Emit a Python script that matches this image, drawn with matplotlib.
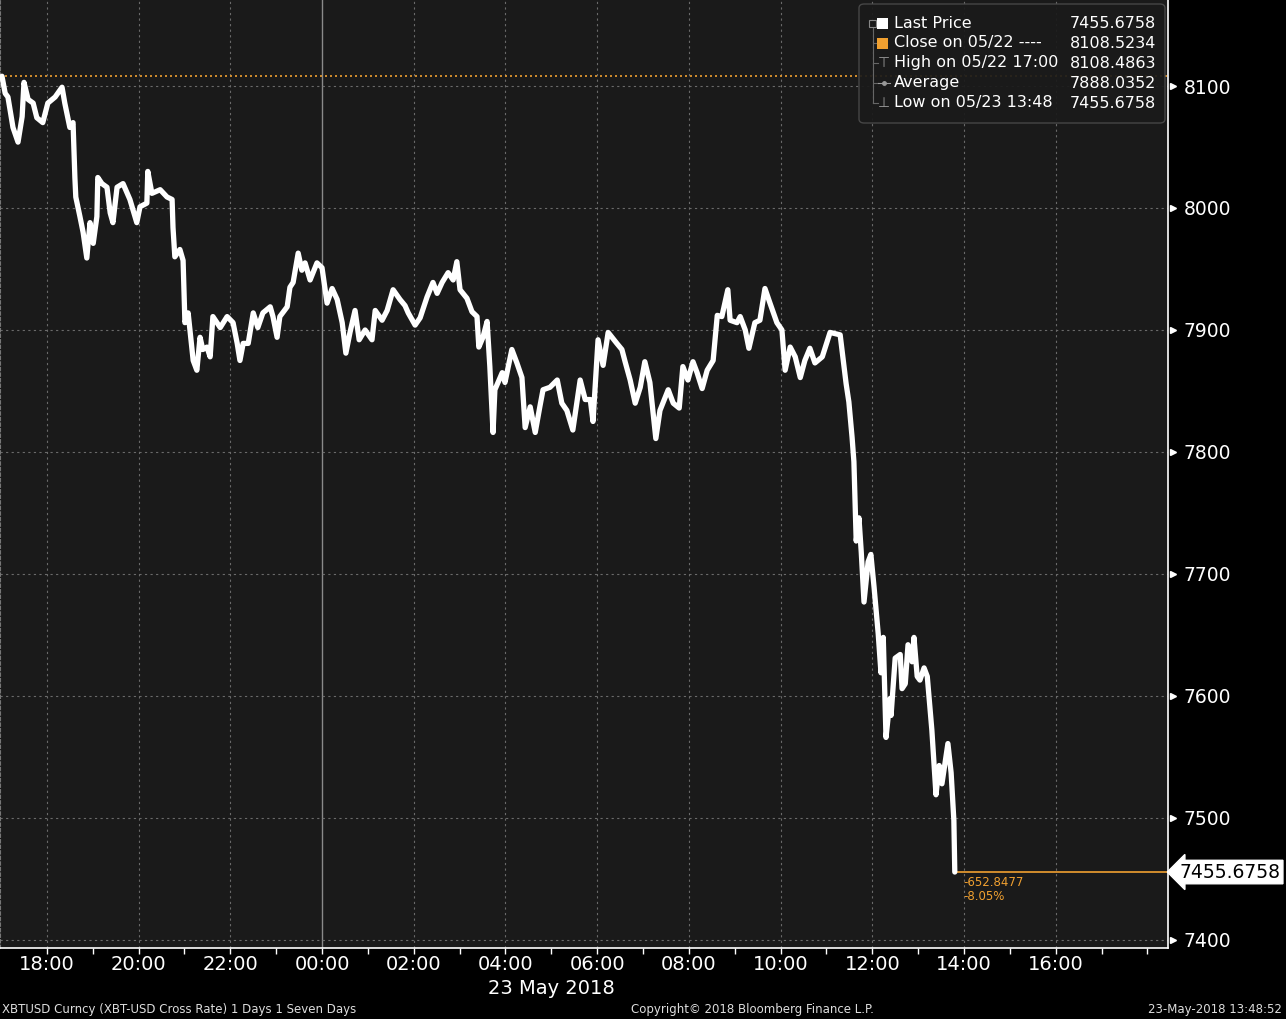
import matplotlib
matplotlib.use("Agg")
import matplotlib.pyplot as plt
import numpy as np
from matplotlib.patches import FancyBboxPatch, Rectangle

# hours relative to 00:00 on 23 May 2018 (negative = 22 May)
hours = [
    -6.98, -6.91, -6.85, -6.74, -6.63, -6.54, -6.50, -6.41, -6.30, -6.22,
    -6.09, -5.98, -5.82, -5.67, -5.61, -5.50, -5.43, -5.39, -5.37, -5.28,
    -5.21, -5.13, -5.06, -4.99, -4.91, -4.89, -4.80, -4.69, -4.62, -4.56,
    -4.47, -4.34, -4.19, -4.04, -3.97, -3.82, -3.80, -3.71, -3.53, -3.38,
    -3.27, -3.25, -3.21, -3.10, -3.03, -2.99, -2.92, -2.81, -2.73, -2.66,
    -2.60, -2.51, -2.44, -2.38, -2.22, -2.07, -1.94, -1.85, -1.79, -1.72,
    -1.61, -1.50, -1.40, -1.29, -1.13, -1.07, -0.98, -0.92, -0.76, -0.70,
    -0.63, -0.52, -0.44, -0.37, -0.26, -0.11, 0.00, 0.11, 0.22, 0.33,
    0.44, 0.52, 0.61, 0.72, 0.81, 0.94, 1.09, 1.16, 1.31, 1.42,
    1.55, 1.70, 1.81, 1.88, 2.03, 2.14, 2.29, 2.42, 2.51, 2.62,
    2.75, 2.86, 2.94, 3.01, 3.16, 3.27, 3.38, 3.42, 3.51, 3.60,
    3.66, 3.73, 3.77, 3.93, 3.99, 4.14, 4.25, 4.36, 4.43, 4.54,
    4.65, 4.75, 4.82, 4.97, 5.13, 5.23, 5.34, 5.47, 5.63, 5.74,
    5.85, 5.91, 6.02, 6.13, 6.24, 6.43, 6.54, 6.61, 6.72, 6.83,
    6.94, 7.04, 7.15, 7.28, 7.37, 7.55, 7.66, 7.79, 7.87, 7.98,
    8.09, 8.18, 8.29, 8.40, 8.53, 8.62, 8.72, 8.85, 8.90, 9.05,
    9.12, 9.23, 9.31, 9.44, 9.55, 9.66, 9.77, 9.92, 10.03, 10.10,
    10.21, 10.32, 10.43, 10.53, 10.64, 10.75, 10.91, 11.08, 11.30, 11.43,
    11.49, 11.56, 11.60, 11.65, 11.71, 11.76, 11.82, 11.91, 11.97, 12.04,
    12.13, 12.19, 12.24, 12.30, 12.39, 12.41, 12.50, 12.61, 12.65, 12.72,
    12.78, 12.87, 12.91, 12.98, 13.04, 13.13, 13.20, 13.30, 13.39, 13.46,
    13.52, 13.65, 13.72, 13.78, 13.80,
]
prices = [
    8108, 8094, 8091, 8066, 8054, 8075, 8103, 8089, 8086, 8074,
    8070, 8086, 8091, 8099, 8086, 8066, 8070, 8025, 8009, 7993,
    7980, 7959, 7988, 7971, 7993, 8025, 8020, 8017, 7996, 7988,
    8017, 8020, 8007, 7988, 8001, 8004, 8030, 8012, 8015, 8009,
    8007, 7984, 7960, 7966, 7957, 7906, 7914, 7875, 7867, 7894,
    7884, 7886, 7878, 7911, 7902, 7911, 7906, 7889, 7875, 7889,
    7889, 7914, 7902, 7914, 7919, 7911, 7894, 7911, 7919, 7935,
    7939, 7963, 7949, 7955, 7941, 7955, 7951, 7922, 7934, 7925,
    7906, 7881, 7898, 7916, 7892, 7900, 7892, 7916, 7908, 7916,
    7933, 7925, 7920, 7914, 7904, 7910, 7927, 7939, 7930, 7939,
    7947, 7941, 7956, 7933, 7926, 7915, 7911, 7886, 7894, 7907,
    7870, 7816, 7851, 7865, 7857, 7884, 7873, 7861, 7820, 7837,
    7816, 7837, 7851, 7853, 7859, 7840, 7834, 7818, 7859, 7843,
    7843, 7825, 7892, 7871, 7898, 7889, 7884, 7874, 7859, 7840,
    7853, 7874, 7857, 7811, 7834, 7851, 7840, 7836, 7870, 7859,
    7874, 7865, 7852, 7867, 7875, 7912, 7911, 7933, 7908, 7906,
    7911, 7900, 7885, 7906, 7908, 7934, 7922, 7906, 7900, 7867,
    7886, 7878, 7861, 7875, 7885, 7873, 7878, 7898, 7896, 7856,
    7841, 7812, 7792, 7727, 7746, 7718, 7677, 7710, 7716, 7689,
    7651, 7619, 7648, 7566, 7598, 7584, 7631, 7634, 7606, 7610,
    7642, 7628, 7648, 7616, 7613, 7623, 7616, 7572, 7519, 7543,
    7528, 7561, 7537, 7498, 7455.6758,
]

tick_hours = [-6, -4, -2, 0, 2, 4, 6, 8, 10, 12, 14, 16]
tick_labels = ["18:00", "20:00", "22:00", "00:00", "02:00", "04:00",
               "06:00", "08:00", "10:00", "12:00", "14:00", "16:00"]
price_ticks = [7400, 7500, 7600, 7700, 7800, 7900, 8000, 8100]

last_price = 7455.6758
prev_close = 8108.5234
change = -652.8477
change_pct = -8.05

legend_names = ["Last Price", "Close on 05/22 ----", "High on 05/22 17:00",
                "Average", "Low on 05/23 13:48"]
legend_values = ["7455.6758", "8108.5234", "8108.4863", "7888.0352", "7455.6758"]

W, H = 1286, 1019
ORANGE = "#f0a030"
FONT = "DejaVu Sans"

def fx(px):
    return px / W

def fy(py):
    return 1 - py / H

fig = plt.figure(figsize=(W / 100, H / 100), dpi=100, facecolor="black")
ax = fig.add_axes([0, fy(948), fx(1168), 948 / H])
ax.set_facecolor("#1a1a1a")

ax.set_xlim(-7.023, 18.45)
ax.set_ylim(7393.4, 8170.5)

# grid
for h in tick_hours:
    if h == 0:
        ax.axvline(h, color="#8a8a8a", lw=1.0, zorder=1)
    else:
        ax.axvline(h, color="#6a6a6a", lw=0.8, ls=(0, (2, 3)), zorder=1)
for p in price_ticks:
    ax.axhline(p, color="#6a6a6a", lw=0.8, ls=(0, (2, 3)), zorder=1)

# previous close
ax.axhline(prev_close, color=ORANGE, lw=1.2, ls=(0, (1.2, 1.8)), zorder=2)

# price line
ax.plot(hours, prices, color="white", lw=3.8, solid_joinstyle="round",
        solid_capstyle="round", zorder=3)

# last price line + change annotation
ax.hlines(last_price, hours[-1], 18.45, color=ORANGE, lw=1.2, zorder=2)
ax.text(hours[-1] + 0.18, last_price - 3, f"{change:.4f}\n{change_pct:.2f}%",
        color=ORANGE, fontsize=8.5, family=FONT, va="top", ha="left",
        linespacing=1.15)

# spines and ticks
ax.spines["top"].set_visible(False)
ax.spines["left"].set_color("#777777")
ax.spines["left"].set_linestyle((0, (3, 2)))
ax.spines["right"].set_color("white")
ax.spines["bottom"].set_color("white")
ax.spines["right"].set_linewidth(1.2)
ax.spines["bottom"].set_linewidth(1.2)

ax.set_xticks(tick_hours)
ax.set_xticklabels(tick_labels, fontsize=14, color="white", family=FONT)
ax.set_xticks(np.arange(-6, 18.5, 1), minor=True)
ax.tick_params(axis="x", which="both", colors="white", direction="out",
               length=4, width=1, pad=1)

ax.yaxis.tick_right()
ax.set_yticks(price_ticks)
ax.set_yticklabels([str(p) for p in price_ticks], fontsize=13.5,
                   color="white", family=FONT)
ax.tick_params(axis="y", which="both", colors="white", length=0, pad=11)
ytr = ax.get_yaxis_transform()
for p in price_ticks:
    ax.plot([1.004], [p], marker=">", color="white", markersize=4.5,
            transform=ytr, clip_on=False)

# last price tag on the axis
ax.text(1.01, last_price, "7455.6758", transform=ytr, color="black",
        fontsize=13.5, family=FONT, va="center", ha="left",
        bbox=dict(boxstyle="larrow,pad=0.12", fc="white", ec="white"))

# date under the axis
fig.text(fx(551), fy(988), "23 May 2018", color="white", fontsize=14,
         family=FONT, ha="center", va="center")

# footer
fig.text(fx(2), fy(1010), "XBTUSD Curncy (XBT-USD Cross Rate) 1 Days 1 Seven Days",
         color="#dddddd", fontsize=8.5, family=FONT, ha="left", va="center")
fig.text(fx(752), fy(1010), "Copyright\u00a9 2018 Bloomberg Finance L.P.",
         color="#dddddd", fontsize=8.5, family=FONT, ha="center", va="center")
fig.text(fx(1282), fy(1010), "23-May-2018 13:48:52",
         color="#dddddd", fontsize=8.5, family=FONT, ha="right", va="center")

# legend box
box = FancyBboxPatch((fx(859), fy(123)), fx(306), 119 / H,
                     boxstyle="round,pad=0,rounding_size=0.004",
                     transform=fig.transFigure, fc="#1a1a1a", ec="#4a4a4a",
                     lw=1.0, alpha=0.92, zorder=5)
fig.patches.append(box)

rows_y = [23, 43, 63, 83, 103]
# tree line
fig.add_artist(plt.Line2D([fx(873), fx(873)], [fy(28), fy(103)],
                          color="#666666", lw=0.8, zorder=6))
for ry in rows_y[1:]:
    fig.add_artist(plt.Line2D([fx(873), fx(878)], [fy(ry), fy(ry)],
                              color="#666666", lw=0.8, zorder=6))
fig.add_artist(Rectangle((fx(869), fy(27)), fx(7), 7 / H, fill=False,
                         ec="#888888", lw=0.8, transform=fig.transFigure,
                         zorder=7))
fig.add_artist(Rectangle((fx(877), fy(29)), fx(11), 11 / H, fc="white",
                         ec="none", transform=fig.transFigure, zorder=7))
fig.add_artist(Rectangle((fx(877), fy(49)), fx(11), 11 / H, fc=ORANGE,
                         ec="none", transform=fig.transFigure, zorder=7))
fig.text(fx(884), fy(63), "\u22a4", color="#999999", fontsize=10,
         ha="center", va="center", family=FONT, zorder=7)
fig.add_artist(plt.Line2D([fx(878), fx(890)], [fy(83), fy(83)],
                          color="#999999", lw=0.8, zorder=7))
fig.add_artist(plt.Line2D([fx(884)], [fy(83)], color="#999999",
                          marker="o", markersize=2.5, zorder=7))
fig.text(fx(884), fy(103), "\u22a5", color="#999999", fontsize=10,
         ha="center", va="center", family=FONT, zorder=7)

for ry, name, val in zip(rows_y, legend_names, legend_values):
    fig.text(fx(894), fy(ry), name, color="white", fontsize=11.5,
             family=FONT, ha="left", va="center", zorder=8)
    fig.text(fx(1156), fy(ry), val, color="white", fontsize=11.5,
             family=FONT, ha="right", va="center", zorder=8)

fig.savefig("out.png", dpi=100, facecolor="black")
